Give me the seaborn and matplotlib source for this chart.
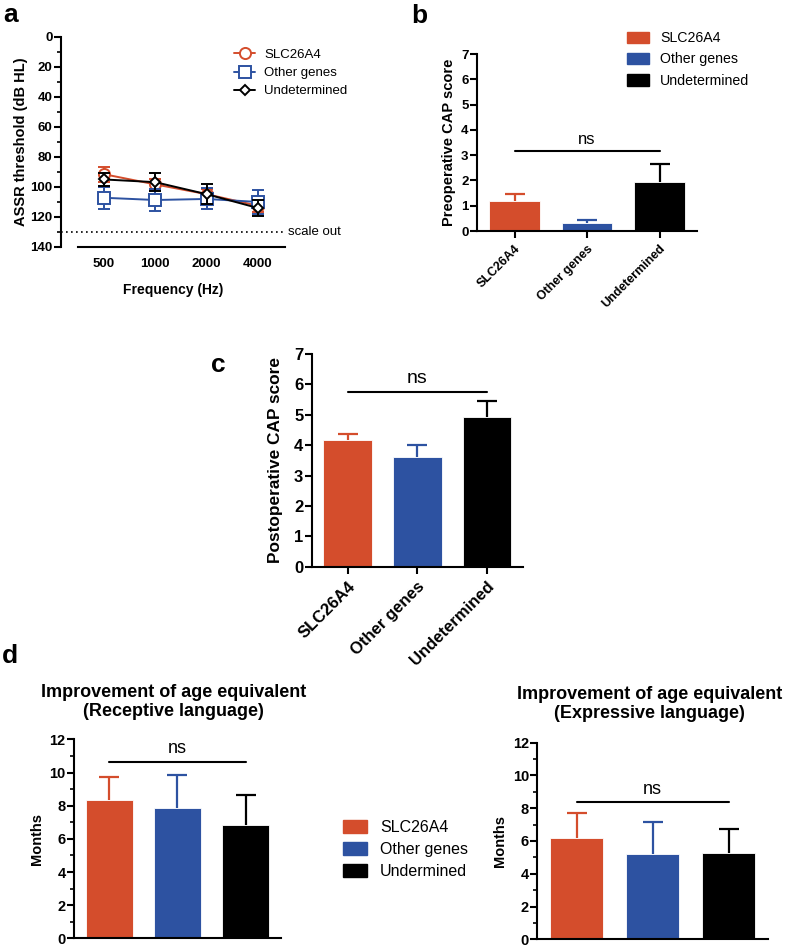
import matplotlib
matplotlib.use("Agg")
import matplotlib.pyplot as plt
import seaborn as sns
from matplotlib.lines import Line2D
from matplotlib.patches import Patch
from matplotlib.ticker import MultipleLocator

# ---- data ----
GROUPS = ["SLC26A4", "Other genes", "Undetermined"]
LEGEND_D = ["SLC26A4", "Other genes", "Undermined"]
COLORS = ["#D44D2C", "#2D52A1", "#000000"]

FREQS = ["500", "1000", "2000", "4000"]
assr_slc = [91.5, 98.3, 104.8, 112.5]
assr_slc_err = [5.0, 3.5, 3.5, 4.0]
assr_other = [107.2, 108.7, 108.0, 110.0]
assr_other_err = [7.2, 7.2, 7.0, 7.8]
assr_undet = [95.0, 96.8, 104.8, 114.0]
assr_undet_err = [4.5, 5.8, 6.5, 5.5]

pre_cap = [1.17, 0.33, 1.95]
pre_cap_err = [0.30, 0.09, 0.70]
post_cap = [4.17, 3.62, 4.93]
post_cap_err = [0.20, 0.38, 0.52]
recept = [8.37, 7.83, 6.83]
recept_err = [1.36, 2.01, 1.84]
express = [6.20, 5.20, 5.28]
express_err = [1.52, 1.97, 1.45]

sns.set_theme(style="ticks")
plt.rcParams["font.family"] = ["Liberation Sans", "DejaVu Sans"]
plt.rcParams["axes.linewidth"] = 1.5
plt.rcParams["xtick.major.width"] = 1.5
plt.rcParams["ytick.major.width"] = 1.5
plt.rcParams["ytick.minor.width"] = 1.2
plt.rcParams["xtick.color"] = "black"
plt.rcParams["ytick.color"] = "black"
plt.rcParams["axes.edgecolor"] = "black"
plt.rcParams["text.color"] = "black"
plt.rcParams["axes.labelcolor"] = "black"

fig = plt.figure(figsize=(7.87, 9.48), dpi=100)


def style_axis(ax, tick_size):
    sns.despine(ax=ax)
    for lab in ax.get_yticklabels() + ax.get_xticklabels():
        lab.set_fontweight("bold")
        lab.set_fontsize(tick_size)
    ax.tick_params(axis="y", length=5, pad=1)
    ax.tick_params(axis="x", length=5)


def bar_panel(ax, values, errs, ymax, ystep, ns_y, tick_size, ylabel, label_size,
              ns_size, rot_labels=True, minor=None):
    sns.barplot(x=GROUPS, y=values, hue=GROUPS, palette=COLORS, width=0.7, saturation=1,
                legend=False, ax=ax, edgecolor="white", linewidth=0.6)
    for i, (v, e) in enumerate(zip(values, errs)):
        _, caps, _ = ax.errorbar([GROUPS[i]], [v], yerr=[[0], [e]], color=COLORS[i],
                                 capsize=7, capthick=1.6, elinewidth=1.6, fmt="none")
        caps[0].set_visible(False)
    ax.set_ylim(0, ymax)
    ax.set_xlim(-0.52, 2.52)
    ax.yaxis.set_major_locator(MultipleLocator(ystep))
    if minor:
        ax.yaxis.set_minor_locator(MultipleLocator(minor))
        ax.tick_params(axis="y", which="minor", length=3)
    ax.plot([GROUPS[0], GROUPS[2]], [ns_y, ns_y], color="black", lw=1.5)
    ax.text(1, ns_y + ymax * 0.025, "ns", ha="center", va="bottom", fontsize=ns_size)
    ax.set_ylabel(ylabel, fontsize=label_size, fontweight="bold")
    ax.set_xlabel("")
    style_axis(ax, tick_size)
    if rot_labels:
        ax.set_xticks(range(3))
        ax.set_xticklabels(GROUPS, rotation=45, ha="right", rotation_mode="anchor",
                           fontweight="bold", fontsize=tick_size)
    else:
        ax.set_xticks([])


# ---- panel a ----
ax_a = fig.add_axes([0.0775, 0.7395, 0.2845, 0.2215])
series = [
    (assr_slc, assr_slc_err, COLORS[0], "o", 8, "SLC26A4"),
    (assr_other, assr_other_err, COLORS[1], "s", 8, "Other genes"),
    (assr_undet, assr_undet_err, COLORS[2], "D", 5, "Undetermined"),
]
handles = []
for vals, errs, c, m, ms, name in series:
    ax_a.errorbar(FREQS, vals, yerr=errs, color=c, capsize=4, capthick=1.4,
                  elinewidth=1.4, fmt="none")
    sns.lineplot(x=FREQS, y=vals, color=c, marker=m, markersize=ms, markerfacecolor="white",
                 markeredgecolor=c, markeredgewidth=1.4, lw=1.4, sort=False, ax=ax_a)
    handles.append(Line2D([], [], color=c, marker=m, markersize=ms, markerfacecolor="white",
                          markeredgecolor=c, markeredgewidth=1.4, lw=1.4, label=name))
ax_a.set_ylim(140, 0)
ax_a.set_xlim(-0.84, 3.53)
ax_a.yaxis.set_major_locator(MultipleLocator(20))
ax_a.yaxis.set_minor_locator(MultipleLocator(10))
ax_a.tick_params(axis="y", which="minor", length=3)
sns.despine(ax=ax_a)
ax_a.spines["bottom"].set_bounds(-0.51, 3.53)
ax_a.axhline(130, xmin=0, xmax=0.99, color="black", lw=1.2, ls=(0, (1, 2)))
ax_a.text(3.6, 130, "scale out", va="center", ha="left", fontsize=9.5)
ax_a.set_xlabel("Frequency (Hz)", fontsize=10, fontweight="bold", labelpad=9)
ax_a.set_ylabel("ASSR threshold (dB HL)", fontsize=10.5, fontweight="bold", labelpad=2)
style_axis(ax_a, 9.5)
ax_a.tick_params(axis="x", length=0, pad=8)
ax_a.legend(handles=handles, loc="upper left", bbox_to_anchor=(0.72, 1.0), frameon=False,
            fontsize=9.5, handlelength=1.6, handletextpad=0.7, labelspacing=0.45)

# ---- panel b ----
ax_b = fig.add_axes([0.606, 0.7563, 0.280, 0.1867])
bar_panel(ax_b, pre_cap, pre_cap_err, 7, 1, 3.15, 9.5, "Preoperative CAP score", 10.5, 12)
for lab in ax_b.get_xticklabels():
    lab.set_fontsize(9)
ax_b.legend(handles=[Patch(color=c, label=g) for c, g in zip(COLORS, GROUPS)],
            loc="upper left", bbox_to_anchor=(0.625, 1.2), frameon=False, fontsize=10.2,
            handlelength=1.5, handleheight=0.9, handletextpad=0.8, labelspacing=0.5)

# ---- panel c ----
ax_c = fig.add_axes([0.396, 0.4022, 0.2686, 0.2244])
bar_panel(ax_c, post_cap, post_cap_err, 7, 1, 5.74, 12, "Postoperative CAP score", 12.4, 14)
ax_c.yaxis.labelpad = 8

# ---- panel d ----
ax_d1 = fig.add_axes([0.094, 0.0102, 0.263, 0.2099])
bar_panel(ax_d1, recept, recept_err, 12, 2, 10.64, 10.5, "Months", 10.5, 13,
          rot_labels=False, minor=1)
ax_d1.set_title("Improvement of age equivalent\n(Receptive language)", fontsize=13,
                fontweight="bold", pad=17, linespacing=1.15, x=0.48)

ax_d2 = fig.add_axes([0.6827, 0.0092, 0.2935, 0.2074])
bar_panel(ax_d2, express, express_err, 12, 2, 8.35, 10.5, "Months", 10.5, 13,
          rot_labels=False, minor=1)
ax_d2.set_title("Improvement of age equivalent\n(Expressive language)", fontsize=13,
                fontweight="bold", pad=18, linespacing=1.15, x=0.485)

fig.legend(handles=[Patch(color=c, label=g) for c, g in zip(COLORS, LEGEND_D)],
           loc="center left", bbox_to_anchor=(0.418, 0.104), frameon=False, fontsize=11.5,
           handlelength=1.5, handleheight=0.9, handletextpad=0.8, labelspacing=0.45)

# panel letters
for x, y, s in [(0.004, 0.977, "a"), (0.523, 0.976, "b"), (0.268, 0.6076, "c"), (0.003, 0.3006, "d")]:
    fig.text(x, y, s, fontsize=19, fontweight="bold", va="baseline")

fig.savefig("out.png", dpi=100)
